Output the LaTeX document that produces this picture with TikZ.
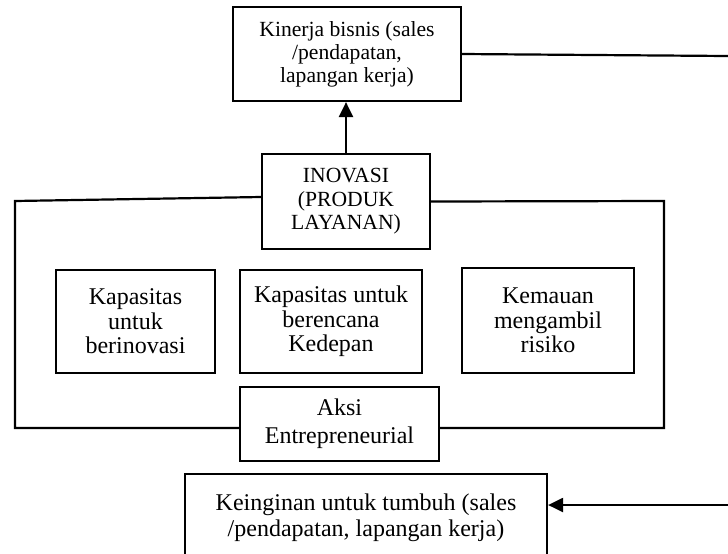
\documentclass[tikz,border=0pt]{standalone}
\usepackage{fontspec}
\setmainfont{Liberation Serif}
\usetikzlibrary{arrows.meta,positioning}

\begin{document}
\begin{tikzpicture}[
    x=0.5pt, y=-0.5pt,
    box/.style={draw, line width=1.1pt, align=center, inner sep=0pt, font=\fontsize{12}{12.2}\selectfont},
    small/.style={font=\fontsize{10.8}{11.5}\selectfont},
    frame/.style={line width=1.1pt},
    link/.style={-{Triangle[length=7.5pt,width=7pt]}, line width=1.1pt}
]
\useasboundingbox (0,0) rectangle (728,553);
% top and middle
\node[box, small, minimum width=114pt, minimum height=47pt] (kinerja) at (347,54) {Kinerja bisnis (sales\\/pendapatan,\\lapangan kerja)};
\node[box, small, font=\fontsize{10.8}{11.8}\selectfont, minimum width=84pt, minimum height=47.5pt] (inovasi) at (346,201.5) {INOVASI\\(PRODUK\\LAYANAN)};
\node[box, minimum width=79.5pt, minimum height=51.5pt] (kapInovasi) at (135.5,321.5) {Kapasitas\\untuk\\berinovasi};
\node[box, minimum width=91pt, minimum height=51.5pt] (kapRencana) at (331,321.5) {Kapasitas untuk\\berencana\\Kedepan};
\node[box, minimum width=86pt, minimum height=52.5pt] (kemauan) at (548,320.5) {Kemauan\\mengambil\\risiko};
\node[box, font=\fontsize{12}{14}\selectfont, minimum width=99.5pt, minimum height=37pt] (aksi) at (339.5,424) {Aksi\\Entrepreneurial};
% bottom
\node[box, font=\fontsize{12}{13}\selectfont, minimum width=181pt, minimum height=44pt] (keinginan) at (366,518) {Keinginan untuk tumbuh (sales\\/pendapatan, lapangan kerja)};

\coordinate (frameTL) at (15,201);
\coordinate (frameBL) at (15,428);
\coordinate (frameTR) at (664,201);
\coordinate (frameBR) at (664,428);
\coordinate (outTop) at (728,56);
\coordinate (outBot) at (728,505);

\draw[link] (inovasi.north) -- (inovasi.north |- kinerja.south);
\draw[frame] ([yshift=2.25pt]inovasi.west) -- (frameTL) -- (frameBL) -- ([yshift=-2pt]aksi.west);
\draw[frame] (inovasi.east) -- (frameTR) -- (frameBR) -- ([yshift=-2pt]aksi.east);
\draw[frame] (kinerja.east) -- (outTop);
\draw[link] (outBot) -- (keinginan.east |- outBot);
\end{tikzpicture}
\end{document}
